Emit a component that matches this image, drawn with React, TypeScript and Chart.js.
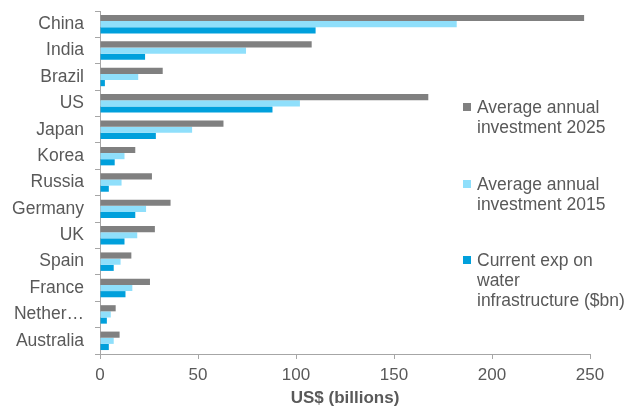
import React, { useEffect, useRef } from "react";
import { Chart, registerables } from "chart.js";

Chart.register(...registerables);

const categories = ["China", "India", "Brazil", "US", "Japan", "Korea", "Russia", "Germany", "UK", "Spain", "France", "Nether…", "Australia"];
const invest2025 = [247, 108, 32, 167.5, 63, 18, 26.5, 36, 28, 16, 25.5, 8, 10];
const invest2015 = [182, 74.5, 19.5, 102, 47, 12.5, 11, 23.5, 19, 10.5, 16.5, 5.5, 7];
const currentExp = [110, 23, 2.5, 88, 28.5, 7.5, 4.5, 18, 12.5, 7, 13, 3.5, 4.5];
const xTicks = [0, 50, 100, 150, 200, 250];

const seriesLabels = [
  ["Average annual", "investment 2025"],
  ["Average annual", "investment 2015"],
  ["Current exp on", "water", "infrastructure ($bn)"],
];
const colors = ["#808080", "#8fdffb", "#00a0dc"];

const FONT = "'Liberation Sans', Arial, sans-serif";
const TEXT = "#595959";

export default function App() {
  const ref = useRef<HTMLCanvasElement>(null);
  useEffect(() => {
    if (!ref.current) return;
    const chart = new Chart(ref.current, {
      type: "bar",
      data: {
        labels: categories,
        datasets: [
          { label: seriesLabels[0].join(" "), data: invest2025, backgroundColor: colors[0] },
          { label: seriesLabels[1].join(" "), data: invest2015, backgroundColor: colors[1] },
          { label: seriesLabels[2].join(" "), data: currentExp, backgroundColor: colors[2] },
        ],
      },
      options: {
        indexAxis: "y",
        responsive: false,
        animation: false,
        maintainAspectRatio: false,
        layout: { padding: { left: 0, right: 36, top: 11, bottom: 0 } },
        plugins: { legend: { display: false }, tooltip: { enabled: false } },
        datasets: { bar: { categoryPercentage: 0.7, barPercentage: 1 } },
        scales: {
          y: {
            afterFit: (s: any) => { s.width = 100; s.paddingTop = 0; s.paddingBottom = 0; },
            grid: { drawOnChartArea: false, tickLength: 5, color: "#a6a6a6", offset: true },
            border: { color: "#a6a6a6" },
            ticks: { color: TEXT, font: { family: FONT, size: 17.5 }, padding: 11, autoSkip: false },
          },
          x: {
            min: 0,
            max: 250,
            afterFit: (s: any) => { s.height = 54; s.paddingLeft = 0; s.paddingRight = 0; },
            afterBuildTicks: (s: any) => { s.ticks = xTicks.map((v) => ({ value: v })); },
            grid: { drawOnChartArea: false, tickLength: 5, color: "#a6a6a6" },
            border: { color: "#a6a6a6" },
            ticks: { color: TEXT, font: { family: FONT, size: 17 }, padding: 6 },
            title: { display: true, text: "US$ (billions)", color: TEXT, font: { family: FONT, size: 17, weight: "bold" }, padding: { top: 0, bottom: -1 } },
          },
        },
      },
    });
    return () => chart.destroy();
  }, []);

  const legendTops = [97, 174, 250];
  return (
    <div style={{ position: "fixed", left: 0, top: 0, width: 626, height: 408, background: "#fff" }}>
      <canvas ref={ref} width={626} height={408} style={{ position: "absolute", left: 0, top: 0 }} />
      {seriesLabels.map((lines, i) => (
        <div key={i} style={{ position: "absolute", left: 463, top: legendTops[i], fontFamily: FONT, fontSize: 17.5, lineHeight: "20px", color: TEXT }}>
          <div style={{ position: "absolute", left: 0, top: 6, width: 8, height: 8, background: colors[i] }} />
          <div style={{ marginLeft: 14, whiteSpace: "nowrap" }}>
            {lines.map((l, j) => <div key={j}>{l}</div>)}
          </div>
        </div>
      ))}
    </div>
  );
}
